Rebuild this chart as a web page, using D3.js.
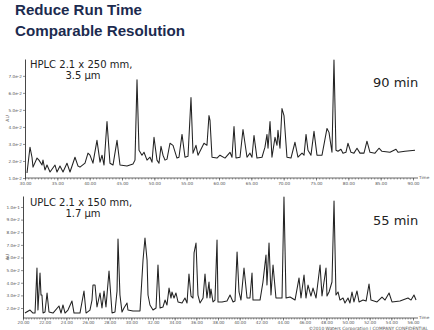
<!DOCTYPE html>
<html><head><meta charset="utf-8">
<script src="https://cdn.jsdelivr.net/npm/d3@7"></script>
<style>
html,body{margin:0;padding:0;background:#fff;}
svg{display:block;}
</style></head>
<body>
<script>
// ---- data ----
const titleLines = ["Reduce Run Time", "Comparable Resolution"];
const hplcTime = [30.31,30.77,31.08,31.24,31.86,32.16,32.63,32.78,33.09,33.40,33.87,34.64,34.95,35.41,35.88,36.49,36.96,37.73,38.20,38.50,39.28,39.74,40.05,40.51,41.13,41.60,41.91,42.22,42.68,43.14,43.61,44.23,44.69,45.77,46.70,47.01,47.32,47.63,48.09,48.40,48.87,49.33,49.64,49.95,50.41,50.72,51.03,51.34,51.65,51.96,52.42,52.89,53.50,53.81,54.28,54.74,55.21,55.67,55.98,56.44,56.75,57.37,57.68,58.14,58.45,58.61,58.92,59.69,60.15,60.93,61.70,62.01,62.32,62.63,63.25,63.71,64.33,64.79,65.10,65.41,65.87,66.65,67.11,67.42,67.58,67.89,68.19,68.66,68.97,69.12,69.43,69.74,70.05,70.51,71.13,71.75,72.21,72.84,73.15,73.46,73.76,74.22,74.69,75.15,75.93,76.70,77.01,77.47,77.78,78.09,78.40,78.86,79.17,79.63,79.94,80.41,80.87,81.34,81.80,82.42,82.88,83.35,84.12,84.74,85.20,86.44,87.37,87.68,88.76,90.31];
const hplcAU = [.0129,.0281,.0222,.0164,.0217,.0205,.0176,.0205,.0147,.0176,.0135,.0176,.0135,.0170,.0135,.0187,.0135,.0222,.0170,.0164,.0187,.0246,.0234,.0187,.0321,.0193,.0234,.0176,.0432,.0187,.0176,.0321,.0176,.0170,.0182,.0205,.0677,.0263,.0234,.0251,.0205,.0222,.0193,.0339,.0205,.0187,.0286,.0234,.0205,.0211,.0304,.0292,.0217,.0222,.0356,.0222,.0228,.0572,.0246,.0292,.0234,.0281,.0304,.0292,.0467,.0438,.0222,.0217,.0234,.0217,.0251,.0222,.0403,.0217,.0222,.0385,.0222,.0246,.0222,.0350,.0217,.0222,.0281,.0356,.0275,.0432,.0222,.0339,.0292,.0380,.0275,.0508,.0467,.0222,.0217,.0310,.0222,.0246,.0234,.0356,.0263,.0234,.0374,.0234,.0234,.0391,.0368,.0251,.0793,.0263,.0257,.0269,.0246,.0251,.0304,.0251,.0246,.0275,.0246,.0246,.0316,.0251,.0246,.0275,.0257,.0251,.0269,.0251,.0257,.0263];
const uplcTime = [20.18,20.65,20.92,21.11,21.29,21.38,21.57,21.66,21.75,21.85,22.03,22.22,22.40,22.77,23.32,23.51,23.69,23.88,24.15,24.52,24.71,25.26,25.63,25.82,26.18,26.37,26.46,26.65,26.83,27.11,27.29,27.48,27.66,27.94,28.22,28.49,28.68,28.77,28.95,29.14,29.32,29.60,29.69,30.15,30.80,31.08,31.26,31.45,31.54,31.72,32.00,32.28,32.46,32.65,32.92,33.11,33.29,33.48,33.66,33.75,33.94,34.12,34.31,34.68,34.95,35.14,35.32,35.51,35.69,35.79,35.97,36.15,36.34,36.62,36.80,36.98,37.17,37.26,37.35,37.54,37.72,37.91,38.00,38.37,38.83,39.11,39.39,39.57,39.76,39.94,40.12,40.40,40.68,40.95,41.14,41.23,41.88,42.15,42.43,42.52,42.71,42.89,43.08,43.35,43.91,44.09,44.28,44.65,45.11,45.48,45.66,45.94,46.12,46.31,46.58,46.77,47.05,47.42,47.60,47.97,48.06,48.25,48.52,48.71,48.89,49.08,49.26,49.54,49.72,50.00,50.18,50.37,50.55,50.83,51.02,51.39,51.67,51.94,52.12,52.68,53.14,53.42,53.79,54.06,54.80,55.54,55.82,56.09,56.28];
const uplcAU = [.0160,.0184,.0160,.0160,.0517,.0184,.0477,.0303,.0303,.0160,.0168,.0319,.0168,.0160,.0216,.0160,.0224,.0160,.0184,.0255,.0160,.0160,.0335,.0160,.0184,.0263,.0382,.0382,.0208,.0319,.0200,.0335,.0208,.0493,.0160,.0168,.0335,.0746,.0303,.0168,.0200,.0240,.0184,.0176,.0176,.0580,.0754,.0580,.0303,.0224,.0184,.0200,.0541,.0200,.0208,.0263,.0224,.0358,.0279,.0327,.0279,.0319,.0248,.0240,.0279,.0240,.0469,.0295,.0279,.0636,.0715,.0303,.0240,.0279,.0469,.0279,.0406,.0279,.0350,.0248,.0263,.0738,.0248,.0248,.0255,.0303,.0248,.0255,.0644,.0327,.0263,.0517,.0279,.0279,.0477,.0263,.0263,.0406,.0620,.0382,.0715,.0303,.0541,.0279,.0279,.1079,.0279,.0287,.0263,.0438,.0279,.0461,.0279,.0382,.0295,.0358,.0279,.0541,.0295,.0517,.0295,.0327,.0406,.1047,.0303,.0327,.0263,.0279,.0240,.0279,.0240,.0327,.0248,.0335,.0248,.0263,.0255,.0390,.0263,.0248,.0287,.0263,.0319,.0248,.0255,.0279,.0263,.0303,.0263];
const hplcXTicks = [30,35,40,45,50,55,60,65,70,75,80,85,90];
const uplcXTicks = [20,22,24,26,28,30,32,34,36,38,40,42,44,46,48,50,52,54,56];
const hplcYTicks = [0.01,0.02,0.03,0.04,0.05,0.06,0.07];
const uplcYTicks = [0.02,0.03,0.04,0.05,0.06,0.07,0.08,0.09,0.10];
const panelLabels = [["HPLC 2.1 x 250 mm,", "3.5 \u00b5m", "90 min"], ["UPLC 2.1 x 150 mm,", "1.7 \u00b5m", "55 min"]];
const footer = "\u00a92010 Waters Corporation | COMPANY CONFIDENTIAL";

// ---- drawing ----
const W = 434, H = 330;
const svg = d3.select("body").append("svg").attr("width", W).attr("height", H);
svg.append("rect").attr("width", W).attr("height", H).attr("fill", "#fff");

const titleFont = "'Liberation Sans Narrow','Arial Narrow','Liberation Sans',Arial,sans-serif";
svg.append("text").attr("x", 15).attr("y", 15).attr("font-family", titleFont).attr("font-weight", "bold")
  .attr("font-size", 15.5).attr("fill", "#1c2b4f").attr("textLength", 127).attr("lengthAdjust", "spacingAndGlyphs").text(titleLines[0]);
svg.append("text").attr("x", 15).attr("y", 36).attr("font-family", titleFont).attr("font-weight", "bold")
  .attr("font-size", 15.5).attr("fill", "#1c2b4f").attr("textLength", 170).attr("lengthAdjust", "spacingAndGlyphs").text(titleLines[1]);

const panels = [
  {time: hplcTime, au: hplcAU, xd: [30, 90], xr: [25, 413], yd: [0.01, 0.0799], yr: [178, 59], xt: hplcXTicks, yt: hplcYTicks, minor: 0.5, labels: panelLabels[0], ly: 68, pad: 1.5},
  {time: uplcTime, au: uplcAU, xd: [20, 56], xr: [23, 413], yd: [0.0121, 0.1087], yr: [318, 196], xt: uplcXTicks, yt: uplcYTicks, minor: 0.25, labels: panelLabels[1], ly: 206, pad: 0.3}
];

const fmtX = d3.format(".2f");
const fmtY = d3.format(".1e");

panels.forEach(p => {
  const x = d3.scaleLinear().domain(p.xd).range(p.xr);
  const y = d3.scaleLinear().domain(p.yd).range(p.yr);
  const g = svg.append("g");
  const y0 = p.yr[0];

  // minor x ticks
  const minorVals = d3.range(p.xd[0], p.xd[1] + 0.2 + 1e-9, p.minor);
  const xMinor = g.append("g").attr("transform", `translate(0,${y0})`)
    .call(d3.axisBottom(x).tickValues(minorVals).tickSize(1.5).tickFormat(""));
  xMinor.select(".domain").remove();
  xMinor.selectAll("line").attr("stroke", "#555").attr("stroke-width", 0.6);

  const xAxis = g.append("g").attr("transform", `translate(0,${y0})`)
    .call(d3.axisBottom(x).tickValues(p.xt).tickSize(2.5).tickSizeOuter(0).tickPadding(p.pad).tickFormat(fmtX));
  xAxis.select(".domain").attr("stroke", "#444").attr("stroke-width", 0.8)
    .attr("d", `M${p.xr[0]},0H${418}`);
  xAxis.selectAll("line").attr("stroke", "#444").attr("stroke-width", 0.6);
  xAxis.selectAll("text").attr("font-size", 4.2).attr("font-family", "DejaVu Sans, sans-serif").attr("fill", "#555");

  g.append("text").attr("x", 419).attr("y", y0 + 1).attr("font-size", 4.2)
    .attr("font-family", "DejaVu Sans, sans-serif").attr("fill", "#555").text("Time");

  const yAxis = g.append("g").attr("transform", `translate(${p.xr[0]},0)`)
    .call(d3.axisLeft(y).tickValues(p.yt).tickSize(2).tickSizeOuter(0).tickPadding(1).tickFormat(fmtY));
  yAxis.select(".domain").attr("stroke", "#333").attr("stroke-width", 0.9);
  yAxis.selectAll("line").attr("stroke", "#444").attr("stroke-width", 0.6);
  yAxis.selectAll("text").attr("font-size", 4.2).attr("font-family", "DejaVu Sans, sans-serif").attr("fill", "#555");

  const midY = (p.yr[0] + p.yr[1]) / 2;
  g.append("text").attr("transform", `translate(9,${midY}) rotate(-90)`).attr("text-anchor", "middle")
    .attr("font-size", 4.5).attr("font-family", "DejaVu Sans, sans-serif").attr("fill", "#555").text("AU");

  const line = d3.line().x(d => x(d[0])).y(d => y(d[1]));
  g.append("path").datum(p.time.map((t, i) => [t, p.au[i]]))
    .attr("d", line).attr("fill", "none").attr("stroke", "#222").attr("stroke-width", 1.05)
    .attr("stroke-linejoin", "round");

  g.append("text").attr("x", 30).attr("y", p.ly).attr("font-size", 10).attr("font-family", "DejaVu Sans, sans-serif")
    .attr("fill", "#222").text(p.labels[0]);
  g.append("text").attr("x", 83).attr("y", p.ly + 11).attr("text-anchor", "middle").attr("font-size", 10)
    .attr("font-family", "DejaVu Sans, sans-serif").attr("fill", "#222").text(p.labels[1]);
  g.append("text").attr("x", 373).attr("y", p.ly + 19).attr("font-size", 13).attr("font-family", "DejaVu Sans, sans-serif")
    .attr("fill", "#222").text(p.labels[2]);
});

svg.append("text").attr("x", 428).attr("y", 329.6).attr("text-anchor", "end").attr("font-size", 4.4)
  .attr("font-family", "DejaVu Sans, sans-serif").attr("fill", "#555").text(footer);
</script>
</body></html>
